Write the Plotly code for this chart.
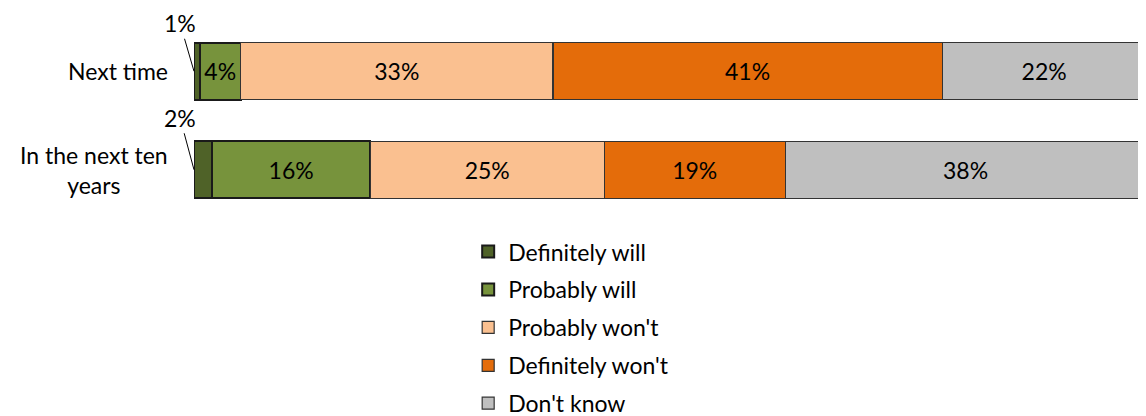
import plotly.graph_objects as go

categories = ["In the next ten<br>years", "Next time"]
series_names = ["Definitely will", "Probably will", "Probably won't", "Definitely won't", "Don't know"]
colors = ["#4F6228", "#77933C", "#FAC090", "#E46C0A", "#BFBFBF"]
line_widths = [2, 2, 1.2, 1.2, 1.2]

# segment widths (percent) for [In the next ten years, Next time]
definitely_will = [1.9, 0.6]
probably_will = [16.6, 4.3]
probably_wont = [24.6, 32.8]
definitely_wont = [19.0, 40.9]
dont_know = [37.9, 21.4]

# displayed labels
labels_definitely_will = ["2%", "1%"]
labels_probably_will = ["16%", "4%"]
labels_probably_wont = ["25%", "33%"]
labels_definitely_wont = ["19%", "41%"]
labels_dont_know = ["38%", "22%"]

series_values = [definitely_will, probably_will, probably_wont, definitely_wont, dont_know]
series_labels = [labels_definitely_will, labels_probably_will, labels_probably_wont,
                 labels_definitely_wont, labels_dont_know]

FONT = "Lato"
FS = 23
fig = go.Figure()
for i, (name, vals, labs) in enumerate(zip(series_names, series_values, series_labels)):
    inside = [("" if i == 0 else l) for l in labs]
    fig.add_trace(go.Bar(
        y=categories, x=vals, name=name, orientation="h",
        marker=dict(color=colors[i], line=dict(color="#1a1a1a" if i < 2 else "#333333", width=line_widths[i])),
        text=inside, textposition="inside", insidetextanchor="middle",
        textangle=0, constraintext="none",
        textfont=dict(family=FONT, size=FS, color="#000000"),
        legendgroup=name, width=0.58, hoverinfo="x+name",
    ))

annotations = []
# small outside labels with leader lines for the first segment
for cat, lab, ay in zip(categories, labels_definitely_will, [-52, -48]):
    annotations.append(dict(
        x=0, y=cat, xref="x", yref="y", text=lab, showarrow=True,
        arrowhead=0, arrowwidth=1, arrowcolor="#000000",
        ax=-14, ay=ay, font=dict(family=FONT, size=FS, color="#000000"),
    ))
# category labels
for cat in categories:
    annotations.append(dict(
        x=-0.0253, xref="paper", y=cat, yref="y", text=cat, showarrow=False,
        xanchor="right", align="center",
        font=dict(family=FONT, size=FS, color="#000000"),
    ))

fig.update_layout(
    width=1146, height=416,
    margin=dict(l=186, r=8, t=14, b=205),
    barmode="stack",
    plot_bgcolor="white", paper_bgcolor="white",
    xaxis=dict(range=[0, 100], visible=False, fixedrange=True),
    yaxis=dict(range=[-0.5, 1.5], showticklabels=False, showgrid=False, zeroline=False, showline=False),
    showlegend=True,
    legend=dict(
        orientation="v", x=0.288, xanchor="left",
        yref="container", y=0.466, yanchor="top",
        font=dict(family=FONT, size=FS, color="#000000"),
        traceorder="grouped", tracegroupgap=5,
        itemwidth=30,
    ),
    annotations=annotations,
    font=dict(family=FONT, size=FS),
)

fig.write_html("out.html")
